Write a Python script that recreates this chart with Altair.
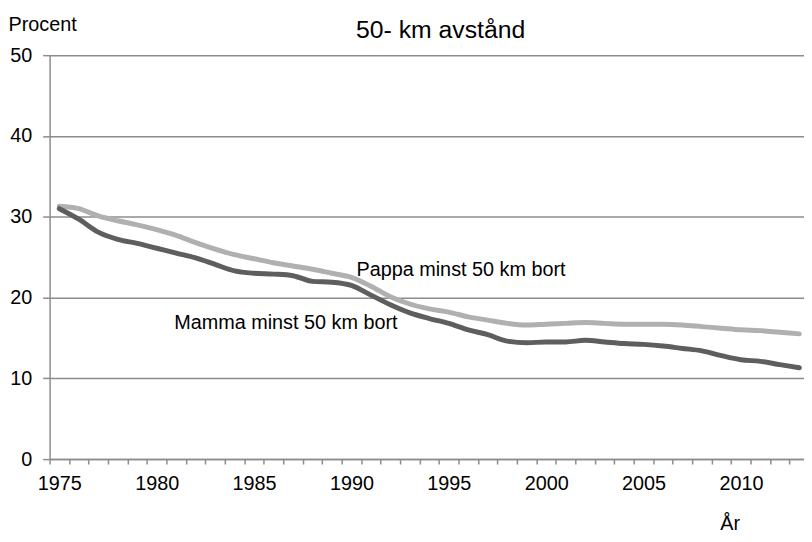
import altair as alt
import pandas as pd

FONT = "Liberation Sans"
GRID = "#8c8c8c"
LIGHT = "#b0b0b0"
DARK = "#5e5e5e"

years = list(range(1975, 2014))
pappa = [31.3, 31.0, 30.1, 29.5, 29.0, 28.4, 27.7, 26.8, 26.0, 25.3,
         24.8, 24.3, 23.9, 23.5, 23.0, 22.5, 21.4, 20.1, 19.2, 18.6,
         18.2, 17.6, 17.2, 16.8, 16.6, 16.7, 16.8, 16.9, 16.8, 16.7,
         16.7, 16.7, 16.6, 16.4, 16.2, 16.0, 15.9, 15.7, 15.5]
mamma = [31.0, 29.7, 28.1, 27.2, 26.7, 26.1, 25.5, 24.9, 24.1, 23.3,
         23.0, 22.9, 22.7, 22.0, 21.9, 21.5, 20.3, 19.1, 18.1, 17.4,
         16.8, 16.0, 15.4, 14.6, 14.4, 14.5, 14.5, 14.7, 14.5, 14.3,
         14.2, 14.0, 13.7, 13.4, 12.8, 12.3, 12.1, 11.7, 11.3]
series_names = ["Pappa", "Mamma"]
label_texts = ["Pappa minst 50 km bort", "Mamma minst 50 km bort"]
label_years = [1990.26, 1980.9]
label_values = [23.4, 16.8]
y_ticks = [0, 10, 20, 30, 40, 50]

df = pd.DataFrame({
    "year": years * 2,
    "value": pappa + mamma,
    "series": [series_names[0]] * len(years) + [series_names[1]] * len(years),
})
tick_positions = [y - 0.5 for y in years]
lab_df = pd.DataFrame({"year": label_years, "value": label_values, "text": label_texts})

x_scale = alt.Scale(domain=[1974.5, 2013.24], nice=False, zero=False)
y_scale = alt.Scale(domain=[0, 50], nice=False, zero=True)

x_enc = alt.X("year:Q", scale=x_scale, axis=alt.Axis(
    orient="bottom", values=tick_positions,
    labelExpr="(datum.value + 0.5) % 5 == 0 ? format(datum.value + 0.5, 'd') : ''",
    labelOffset=9.83, ticks=True, tickSize=5, tickColor=GRID, tickWidth=1.5,
    domain=True, domainColor=GRID, domainWidth=1.5, grid=False,
    labelFontSize=20, labelFont=FONT, labelColor="black", labelPadding=10,
    labelFlush=False, labelOverlap=False,
    title="År", titleFont=FONT, titleFontSize=20, titleFontWeight="normal",
    titleColor="black", titleX=677, titleY=71, titleAlign="left",
    titleBaseline="alphabetic", titleAngle=0))

y_enc = alt.Y("value:Q", scale=y_scale, axis=alt.Axis(
    values=y_ticks, grid=True, gridColor=GRID, gridWidth=1.5,
    tickColor=GRID, tickSize=7, tickWidth=1.5, domainColor=GRID, domainWidth=1.5,
    labelFontSize=20, labelFont=FONT, labelColor="black", labelPadding=11,
    labelFlush=False,
    title="Procent", titleFont=FONT, titleFontSize=20, titleFontWeight="normal",
    titleColor="black", titleAngle=0, titleX=-42, titleY=-25, titleAlign="left",
    titleBaseline="alphabetic"))

lines = alt.Chart(df).mark_line(interpolate="monotone", strokeWidth=5, strokeCap="round").encode(
    x=x_enc,
    y=y_enc,
    color=alt.Color("series:N", scale=alt.Scale(domain=series_names, range=[LIGHT, DARK]), legend=None),
    order=alt.Order("year:Q"),
)

labels = alt.Chart(lab_df).mark_text(align="left", baseline="middle", fontSize=20, font=FONT, color="black").encode(
    x=x_enc,
    y=y_enc,
    text="text:N",
)

chart = alt.layer(lines, labels).properties(
    width=762,
    height=408,
    padding={"left": 42, "top": 45, "right": 0, "bottom": 72},
    autosize=alt.AutoSizeParams(type="none"),
    background="white",
    title=alt.TitleParams("50- km avstånd", font=FONT, fontSize=25, fontWeight="normal",
                          color="black", anchor="middle", dx=14, offset=-49,
                          baseline="alphabetic", frame="group"),
).configure_view(stroke=None)

chart.save("out.html", embed_options={"renderer": "svg", "actions": False})
